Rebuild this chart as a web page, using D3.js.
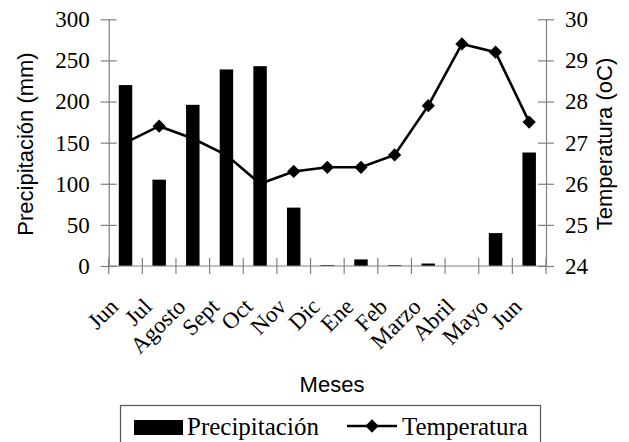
<!DOCTYPE html>
<html>
<head>
<meta charset="utf-8">
<script src="https://cdn.jsdelivr.net/npm/d3@7/dist/d3.min.js"></script>
<style>
  html, body { margin: 0; padding: 0; background: #fff; }
  svg { display: block; }
</style>
</head>
<body>
<svg id="chart" width="629" height="442"></svg>
<script>
const months = ["Jun","Jul","Agosto","Sept","Oct","Nov","Dic","Ene","Feb","Marzo","Abril","Mayo","Jun"];
const precipitation = [220, 105, 196, 239, 243, 71, 1, 8, 1, 3, 0, 40, 138];
const temperature = [27.0, 27.4, 27.1, 26.7, 26.0, 26.3, 26.4, 26.4, 26.7, 27.9, 29.4, 29.2, 27.5];
const precipTicks = [0, 50, 100, 150, 200, 250, 300];
const tempTicks = [24, 25, 26, 27, 28, 29, 30];

(function () {
const svg = d3.select("#chart");
const pL = 108.7, pR = 546, pT = 19.3, pB = 266;
const axisColor = "#808080";
const serifFont = '"Liberation Serif", "Times New Roman", serif';
const sansFont = '"Liberation Sans", Arial, sans-serif';

const x = d3.scaleBand().domain(d3.range(months.length)).range([pL, pR]).padding(0);
const yP = d3.scaleLinear().domain([0, 300]).range([pB, pT]);
const yT = d3.scaleLinear().domain([24, 30]).range([pB, pT]);

// Bars
const bw = x.bandwidth() * 0.4;
svg.append("g").selectAll("rect").data(precipitation).join("rect")
  .attr("x", (d, i) => x(i) + x.bandwidth() / 2 - bw / 2)
  .attr("y", d => yP(d))
  .attr("width", bw)
  .attr("height", d => yP(0) - yP(d))
  .attr("fill", "#000");

// Axes
function styleAxis(g) {
  g.attr("font-family", serifFont);
  g.select(".domain").attr("stroke", axisColor).attr("stroke-width", 1.2);
  g.selectAll(".tick line").attr("stroke", axisColor).attr("stroke-width", 1.2);
  g.selectAll(".tick text").style("font-family", serifFont)
    .style("font-size", "23px").attr("fill", "#000");
}
const axL = svg.append("g").attr("transform", `translate(${pL},0)`)
  .call(d3.axisLeft(yP).tickValues(precipTicks).tickFormat(d3.format("d"))
    .tickSize(8).tickSizeOuter(0).tickPadding(11));
styleAxis(axL);
axL.selectAll(".tick line").attr("x2", 8).attr("x1", -8);

const axR = svg.append("g").attr("transform", `translate(${pR},0)`)
  .call(d3.axisRight(yT).tickValues(tempTicks).tickFormat(d3.format("d"))
    .tickSize(8).tickSizeOuter(0).tickPadding(11));
styleAxis(axR);
axR.selectAll(".tick line").attr("x1", -8).attr("x2", 8);

// X axis with boundary ticks
const xb = svg.append("g");
xb.append("line").attr("x1", pL).attr("x2", pR).attr("y1", pB).attr("y2", pB)
  .attr("stroke", axisColor).attr("stroke-width", 1.2);
const bounds = d3.range(months.length + 1).map(i => i < months.length ? x(i) : x(i - 1) + x.bandwidth());
xb.selectAll("line.t").data(bounds).join("line").attr("class", "t")
  .attr("x1", d => d).attr("x2", d => d).attr("y1", pB - 8).attr("y2", pB + 8)
  .attr("stroke", axisColor).attr("stroke-width", 1.2);
xb.selectAll("text").data(months).join("text")
  .attr("transform", (d, i) => `translate(${x(i) + x.bandwidth() / 2 - 6},${pB + 42}) rotate(-45)`)
  .attr("text-anchor", "end")
  .style("font-family", serifFont).style("font-size", "23px")
  .text(d => d);

// Temperature line
const cx = i => x(i) + x.bandwidth() / 2;
svg.append("path").datum(temperature)
  .attr("d", d3.line().x((d, i) => cx(i)).y(d => yT(d)))
  .attr("fill", "none").attr("stroke", "#000").attr("stroke-width", 2.6);
const squareDiamond = {
  draw(ctx, size) {
    const r = Math.sqrt(size / 2);
    ctx.moveTo(0, -r); ctx.lineTo(r, 0); ctx.lineTo(0, r); ctx.lineTo(-r, 0); ctx.closePath();
  }
};
const diamond = d3.symbol().type(squareDiamond).size(88);
svg.append("g").selectAll("path").data(temperature).join("path")
  .attr("transform", (d, i) => `translate(${cx(i)},${yT(d)})`)
  .attr("d", diamond).attr("fill", "#000");

// Axis titles
svg.append("text").attr("transform", "translate(33,144) rotate(-90)")
  .attr("text-anchor", "middle").style("font-family", sansFont).style("font-size", "22px")
  .text("Precipitación (mm)");
svg.append("text").attr("transform", "translate(612,144) rotate(-90)")
  .attr("text-anchor", "middle").style("font-family", sansFont).style("font-size", "22px")
  .text("Temperatura (oC)");
svg.append("text").attr("x", 332).attr("y", 392)
  .attr("text-anchor", "middle").style("font-family", sansFont).style("font-size", "22px")
  .text("Meses");

// Legend
const lg = svg.append("g");
lg.append("rect").attr("x", 120.5).attr("y", 405.5).attr("width", 420).attr("height", 60)
  .attr("fill", "#fff").attr("stroke", "#555").attr("stroke-width", 1.2);
lg.append("rect").attr("x", 134).attr("y", 420).attr("width", 49).attr("height", 15).attr("fill", "#000");
lg.append("text").attr("x", 187).attr("y", 435).style("font-family", serifFont).style("font-size", "25px")
  .text("Precipitación");
lg.append("line").attr("x1", 347).attr("x2", 397).attr("y1", 426).attr("y2", 426)
  .attr("stroke", "#000").attr("stroke-width", 2.6);
lg.append("path").attr("transform", "translate(372,426)").attr("d", diamond).attr("fill", "#000");
lg.append("text").attr("x", 402).attr("y", 435).style("font-family", serifFont).style("font-size", "25px")
  .text("Temperatura");
})();
</script>
</body>
</html>
